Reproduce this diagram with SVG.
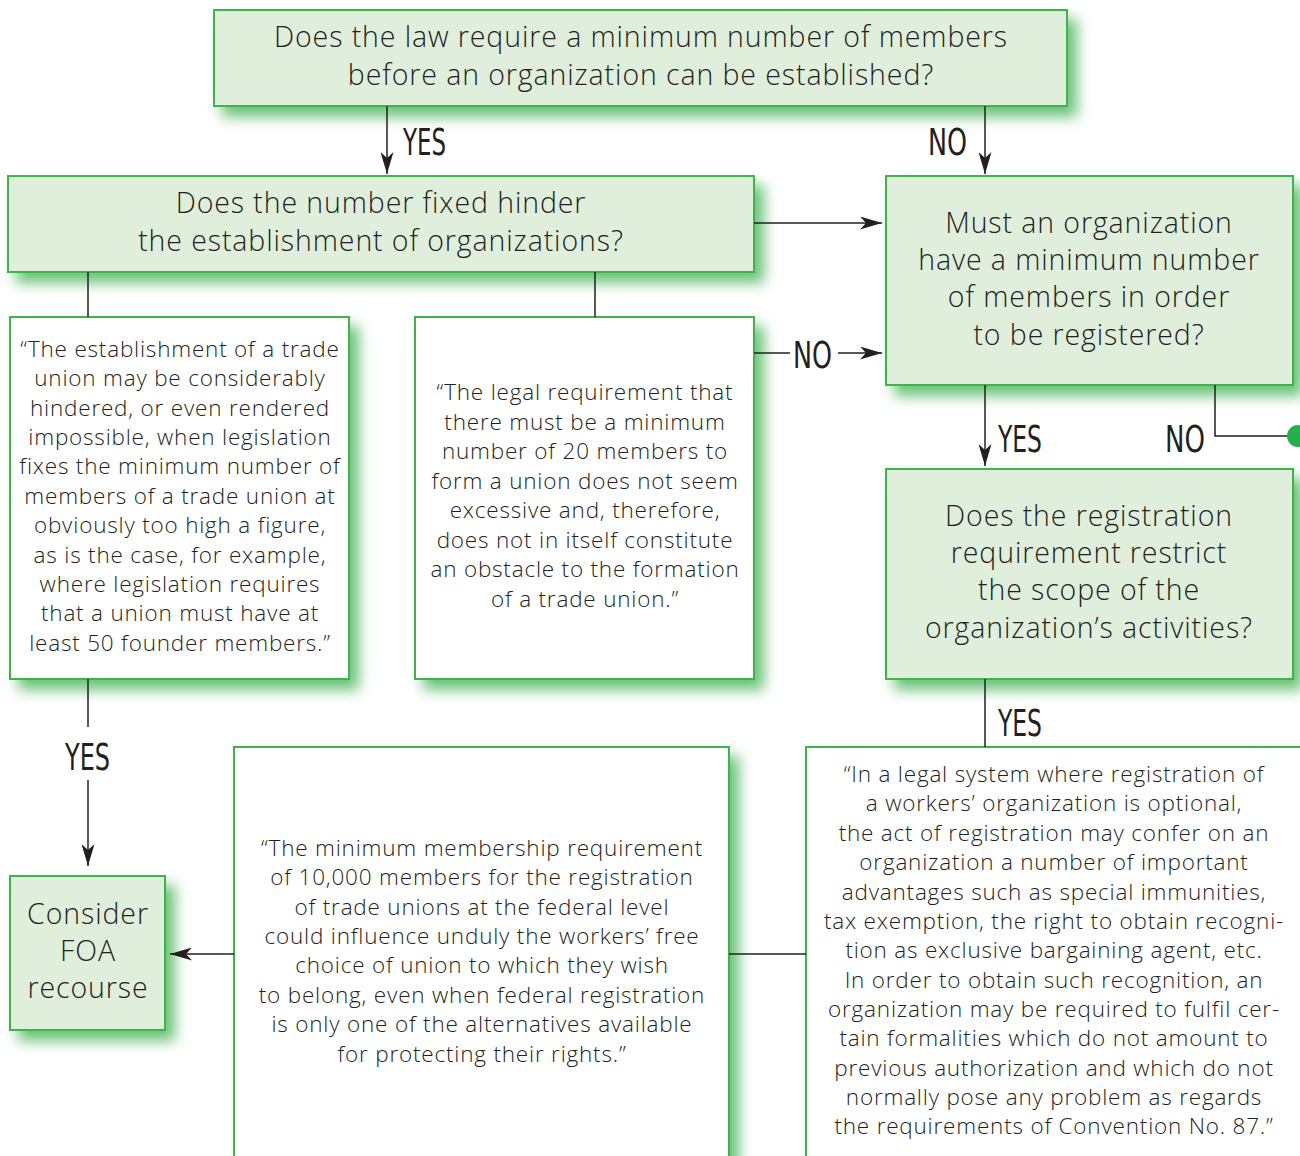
<svg xmlns="http://www.w3.org/2000/svg" width="1300" height="1156" viewBox="0 0 1300 1156">
<style>
.q{fill:#dfefdc;stroke:#3cb54a;stroke-width:2}
.w{fill:#ffffff;stroke:#3cb54a;stroke-width:2}
.t{font-family:"Open Sans","Noto Sans",sans-serif;fill:#231f20;text-anchor:middle;font-weight:300}
.big{font-size:28.5px;letter-spacing:0.9px}
.sm{font-size:22.5px;letter-spacing:0.8px}
.lbl{font-family:"Liberation Sans Narrow","DejaVu Sans Condensed",sans-serif;font-size:38px;fill:#231f20}
.ln{stroke:#231f20;stroke-width:1.5;fill:none}
</style>
<defs>
<filter id="sh" x="-10%" y="-10%" width="130%" height="140%">
<feFlood flood-color="#4fb860" flood-opacity="0.85"/>
<feComposite in2="SourceAlpha" operator="in"/>
<feGaussianBlur stdDeviation="7"/>
<feOffset dx="9" dy="10" result="s"/>
<feMerge><feMergeNode in="s"/><feMergeNode in="SourceGraphic"/></feMerge>
</filter>
<marker id="ah" viewBox="0 0 22 13" refX="22" refY="6.5" markerWidth="22" markerHeight="13" markerUnits="userSpaceOnUse" orient="auto">
<path d="M0,0 L22,6.5 L0,13 L6,6.5 Z" fill="#231f20"/>
</marker>
</defs>
<rect width="1300" height="1156" fill="#ffffff"/>

<g id="q1">
<rect class="q" x="214" y="10" width="853" height="96" filter="url(#sh)"/>
<text class="t big" x="641" y="47">Does the law require a minimum number of members</text>
<text class="t big" x="641" y="85">before an organization can be established?</text>
</g>

<g id="q2">
<rect class="q" x="8" y="176" width="746" height="96" filter="url(#sh)"/>
<text class="t big" x="381" y="213">Does the number fixed hinder</text>
<text class="t big" x="381" y="251">the establishment of organizations?</text>
</g>

<g id="q3">
<rect class="q" x="886" y="176" width="407" height="209" filter="url(#sh)"/>
<text class="t big" x="1089" y="233">Must an organization</text>
<text class="t big" x="1089" y="270">have a minimum number</text>
<text class="t big" x="1089" y="307">of members in order</text>
<text class="t big" x="1089" y="345">to be registered?</text>
</g>

<g id="q4">
<rect class="q" x="886" y="469" width="407" height="210" filter="url(#sh)"/>
<text class="t big" x="1089" y="526">Does the registration</text>
<text class="t big" x="1089" y="563">requirement restrict</text>
<text class="t big" x="1089" y="600">the scope of the</text>
<text class="t big" x="1089" y="638">organization’s activities?</text>
</g>

<g id="c1">
<rect class="w" x="10" y="317" width="339" height="362" filter="url(#sh)"/>
<text class="t sm" x="180" y="357">“The establishment of a trade</text>
<text class="t sm" x="180" y="386">union may be considerably</text>
<text class="t sm" x="180" y="416">hindered, or even rendered</text>
<text class="t sm" x="180" y="445">impossible, when legislation</text>
<text class="t sm" x="180" y="474">fixes the minimum number of</text>
<text class="t sm" x="180" y="504">members of a trade union at</text>
<text class="t sm" x="180" y="533">obviously too high a figure,</text>
<text class="t sm" x="180" y="563">as is the case, for example,</text>
<text class="t sm" x="180" y="592">where legislation requires</text>
<text class="t sm" x="180" y="621">that a union must have at</text>
<text class="t sm" x="180" y="651">least 50 founder members.”</text>
</g>

<g id="c2">
<rect class="w" x="415" y="317" width="339" height="362" filter="url(#sh)"/>
<text class="t sm" x="585" y="400">“The legal requirement that</text>
<text class="t sm" x="585" y="430">there must be a minimum</text>
<text class="t sm" x="585" y="459">number of 20 members to</text>
<text class="t sm" x="585" y="489">form a union does not seem</text>
<text class="t sm" x="585" y="518">excessive and, therefore,</text>
<text class="t sm" x="585" y="548">does not in itself constitute</text>
<text class="t sm" x="585" y="577">an obstacle to the formation</text>
<text class="t sm" x="585" y="607">of a trade union.”</text>
</g>

<g id="foa">
<rect class="q" x="10" y="876" width="155" height="154" filter="url(#sh)"/>
<text class="t big" x="88" y="924">Consider</text>
<text class="t big" x="88" y="961">FOA</text>
<text class="t big" x="88" y="998">recourse</text>
</g>

<g id="c3">
<rect class="w" x="234" y="747" width="495" height="420" filter="url(#sh)"/>
<text class="t sm" x="482" y="856">“The minimum membership requirement</text>
<text class="t sm" x="482" y="885">of 10,000 members for the registration</text>
<text class="t sm" x="482" y="915">of trade unions at the federal level</text>
<text class="t sm" x="482" y="944">could influence unduly the workers’ free</text>
<text class="t sm" x="482" y="973">choice of union to which they wish</text>
<text class="t sm" x="482" y="1003">to belong, even when federal registration</text>
<text class="t sm" x="482" y="1032">is only one of the alternatives available</text>
<text class="t sm" x="482" y="1062">for protecting their rights.”</text>
</g>

<g id="c4">
<rect class="w" x="806" y="747" width="510" height="420" filter="url(#sh)"/>
<text class="t sm" x="1054" y="782">“In a legal system where registration of</text>
<text class="t sm" x="1054" y="811">a workers’ organization is optional,</text>
<text class="t sm" x="1054" y="841">the act of registration may confer on an</text>
<text class="t sm" x="1054" y="870">organization a number of important</text>
<text class="t sm" x="1054" y="900">advantages such as special immunities,</text>
<text class="t sm" x="1054" y="929">tax exemption, the right to obtain recogni-</text>
<text class="t sm" x="1054" y="958">tion as exclusive bargaining agent, etc.</text>
<text class="t sm" x="1054" y="988">In order to obtain such recognition, an</text>
<text class="t sm" x="1054" y="1017">organization may be required to fulfil cer-</text>
<text class="t sm" x="1054" y="1046">tain formalities which do not amount to</text>
<text class="t sm" x="1054" y="1076">previous authorization and which do not</text>
<text class="t sm" x="1054" y="1105">normally pose any problem as regards</text>
<text class="t sm" x="1054" y="1134">the requirements of Convention No. 87.”</text>
</g>

<g id="connectors">
<line class="ln" x1="387" y1="106" x2="387" y2="174" marker-end="url(#ah)"/>
<line class="ln" x1="985" y1="106" x2="985" y2="174" marker-end="url(#ah)"/>
<line class="ln" x1="754" y1="223" x2="882" y2="223" marker-end="url(#ah)"/>
<line class="ln" x1="88" y1="272" x2="88" y2="317"/>
<line class="ln" x1="595" y1="272" x2="595" y2="317"/>
<line class="ln" x1="754" y1="353" x2="790" y2="353"/>
<line class="ln" x1="838" y1="353" x2="882" y2="353" marker-end="url(#ah)"/>
<line class="ln" x1="985" y1="385" x2="985" y2="466" marker-end="url(#ah)"/>
<polyline class="ln" points="1215,385 1215,436 1292,436"/>
<circle cx="1298" cy="436" r="11" fill="#22b14c"/>
<line class="ln" x1="985" y1="679" x2="985" y2="747"/>
<line class="ln" x1="88" y1="679" x2="88" y2="727"/>
<line class="ln" x1="88" y1="780" x2="88" y2="866" marker-end="url(#ah)"/>
<line class="ln" x1="234" y1="954" x2="170" y2="954" marker-end="url(#ah)"/>
<line class="ln" x1="806" y1="954" x2="729" y2="954"/>
<text class="lbl" x="403" y="155" textLength="43" lengthAdjust="spacingAndGlyphs">YES</text>
<text class="lbl" x="928" y="155" textLength="39" lengthAdjust="spacingAndGlyphs">NO</text>
<text class="lbl" x="793" y="368" textLength="39" lengthAdjust="spacingAndGlyphs">NO</text>
<text class="lbl" x="998" y="452" textLength="44" lengthAdjust="spacingAndGlyphs">YES</text>
<text class="lbl" x="1165" y="452" textLength="40" lengthAdjust="spacingAndGlyphs">NO</text>
<text class="lbl" x="998" y="736" textLength="44" lengthAdjust="spacingAndGlyphs">YES</text>
<text class="lbl" x="65" y="770" textLength="45" lengthAdjust="spacingAndGlyphs">YES</text>
</g>
</svg>
